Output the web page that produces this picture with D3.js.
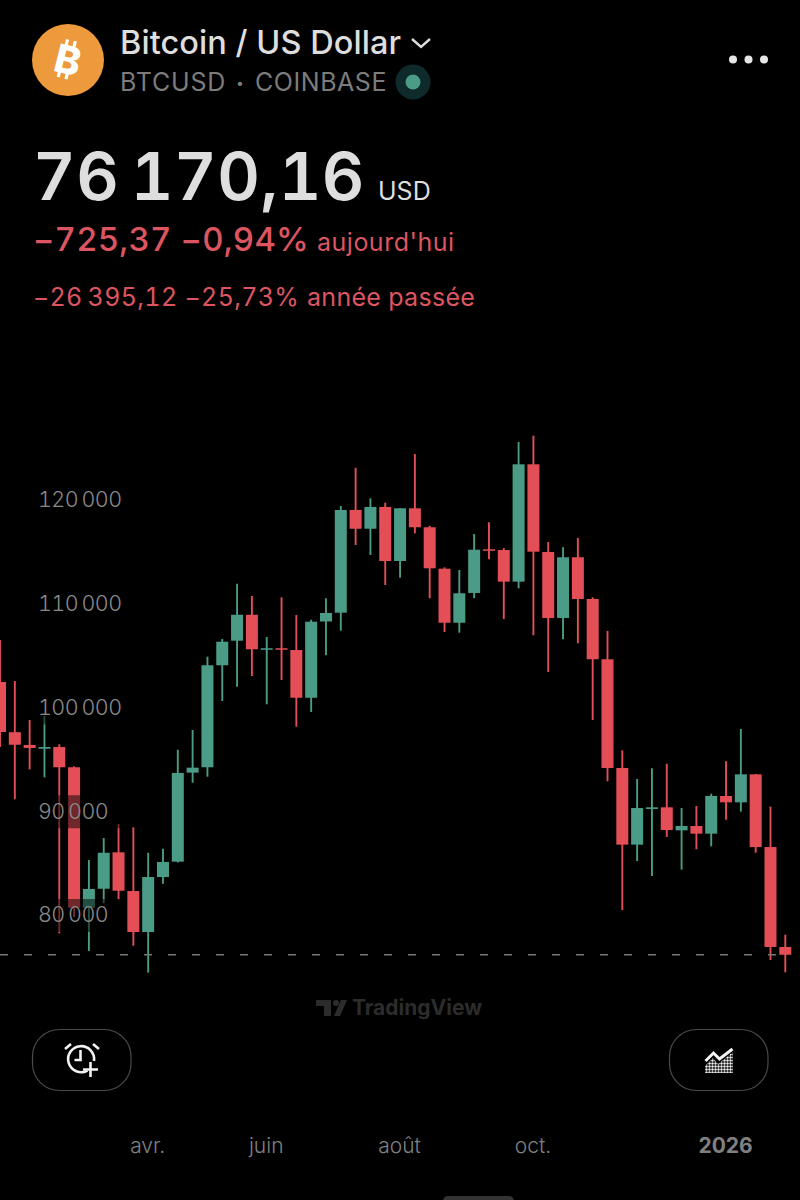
<!DOCTYPE html>
<html>
<head>
<meta charset="utf-8">
<script src="https://cdnjs.cloudflare.com/ajax/libs/d3/7.8.5/d3.min.js"></script>
<style>
  html, body { margin: 0; padding: 0; background: #000; }
  svg { display: block; }
  text { font-family: Inter, "Noto Sans", sans-serif; }
  .num { font-feature-settings: "tnum"; }
</style>
</head>
<body>
<svg id="chart"></svg>
<script>
// weekly candles
var weeks = ["2025-01-27","2025-02-03","2025-02-10","2025-02-17","2025-02-24","2025-03-03","2025-03-10","2025-03-17","2025-03-24","2025-03-31",
  "2025-04-07","2025-04-14","2025-04-21","2025-04-28","2025-05-05","2025-05-12","2025-05-19","2025-05-26","2025-06-02","2025-06-09",
  "2025-06-16","2025-06-23","2025-06-30","2025-07-07","2025-07-14","2025-07-21","2025-07-28","2025-08-04","2025-08-11","2025-08-18",
  "2025-08-25","2025-09-01","2025-09-08","2025-09-15","2025-09-22","2025-09-29","2025-10-06","2025-10-13","2025-10-20","2025-10-27",
  "2025-11-03","2025-11-10","2025-11-17","2025-11-24","2025-12-01","2025-12-08","2025-12-15","2025-12-22","2025-12-29","2026-01-05",
  "2026-01-12","2026-01-19","2026-01-26","2026-02-02"];

var opens = [102460,97620,96390,96030,96190,94240,80700,82530,86040,82310,
  78360,83660,85140,93720,94240,104070,106440,108940,105570,105710,
  105540,100940,108290,109140,119040,117230,119330,114120,119200,117370,
  113380,108170,111040,115250,115180,112130,123440,114990,108630,114480,
  110460,104650,94170,86780,90220,90380,88160,88580,87840,91470,
  90860,93560,86550,76920];

var closes = [97640,96410,96100,96190,94240,80700,82510,86000,82340,78360,
  83660,85110,93690,94200,104070,106340,108940,105610,105710,105570,
  100940,108270,109110,119040,117230,119330,114120,119200,117370,113420,
  108170,111010,115210,115110,112130,123440,115020,108630,114480,110460,
  104650,94170,86780,90310,90380,88190,88580,87840,91470,90860,
  93560,86550,76920,76170];

var highs = [106510,102550,98800,99180,96450,94330,85300,87420,88770,88450,
  86000,86390,95930,97830,104900,106600,111930,110750,106800,110620,
  108920,108460,110530,119420,123110,120160,119740,119230,124430,117520,
  113510,113250,116720,117850,115370,125590,126200,115950,115440,116340,
  110620,107370,95870,93110,94140,94580,90310,90510,91690,94810,
  97930,93590,90440,78100];

var lows = [96190,91150,94040,93270,78240,79810,76530,81130,81510,77040,
  74440,83020,85060,92750,93330,100630,102000,103040,100310,102650,
  98150,99570,105030,107400,115660,114700,111810,112510,116790,110530,
  107280,107210,110530,114280,108530,111490,106960,103420,106570,106190,
  98800,92890,80480,85200,83760,87520,84370,86330,86620,89190,
  89960,86000,75660,74480];

var priceTicks = [80000,90000,100000,110000,120000];
var lastPrice = 76170.16;

var timeTicks = ["2025-04-07","2025-06-02","2025-08-04","2025-10-06","2026-01-05"];
var timeLabels = ["avr.","juin","août","oct.","2026"];

var red = "#e44f57";
var green = "#4a9c86";

var width = 800, height = 1200;

var svg = d3.select("#chart")
    .attr("width", width)
    .attr("height", height)
    .attr("viewBox", "0 0 800 1200");

var candles = weeks.map(function(w, i) {
    return { week: w, open: opens[i], close: closes[i], high: highs[i], low: lows[i] };
});

var xScale = d3.scalePoint().domain(weeks).range([0, 785.3]);
var yScale = d3.scaleLinear().domain([80000, 120000]).range([915, 500]);

/*************** HEADER ***************/
var header = svg.append("g");

header.append("circle").attr("cx", 68).attr("cy", 60).attr("r", 36).attr("fill", "#ec9a3c");
var btc = header.append("g").attr("transform", "translate(68,60) rotate(14)");
btc.append("text")
    .attr("text-anchor", "middle")
    .attr("y", 14)
    .attr("font-size", 39)
    .attr("font-weight", 800)
    .attr("fill", "#fff")
    .text("B");
[-7, 1].forEach(function(dx) {
    btc.append("rect").attr("x", dx).attr("y", -20).attr("width", 3.2).attr("height", 6).attr("fill", "#fff");
    btc.append("rect").attr("x", dx).attr("y", 13).attr("width", 3.2).attr("height", 6).attr("fill", "#fff");
});

function label(x, y, size, weight, fill, str, spacing) {
    return header.append("text")
        .attr("class", "num")
        .attr("x", x).attr("y", y)
        .attr("font-size", size)
        .attr("font-weight", weight)
        .attr("letter-spacing", spacing || 0)
        .attr("fill", fill)
        .text(str);
}

label(120, 54, 32.5, 500, "#dedede", "Bitcoin / US Dollar", 0.05);
label(120, 91, 25, 400, "#7c7c7c", "BTCUSD", 0.8);
label(236, 88, 14, 400, "#7c7c7c", "•");
label(255, 91, 25, 400, "#7c7c7c", "COINBASE", 0.55);

header.append("path")
    .attr("d", "M412 39l9 8 9-8")
    .attr("fill", "none")
    .attr("stroke", "#dedede")
    .attr("stroke-width", 2.4);

header.append("circle").attr("cx", 413).attr("cy", 82).attr("r", 17.5).attr("fill", "#0e2a2b");
header.append("circle").attr("cx", 413).attr("cy", 82).attr("r", 7.5).attr("fill", green);

[733, 748.5, 764].forEach(function(cx) {
    header.append("circle").attr("cx", cx).attr("cy", 59.5).attr("r", 4).attr("fill", "#e6e6e6");
});

label(33, 200, 66, 600, "#dedede", "76\u2009170,16", 0.5);
label(378, 200, 25, 400, "#dedede", "USD");
label(33, 251, 33, 500, "#dc5560", "\u2212725,37 \u22120,94%", 0.2);
label(317, 251, 25, 400, "#dc5560", "aujourd'hui", 0.5);
label(33, 306, 25, 400, "#dc5560", "\u221226\u2009395,12 \u221225,73%", 0.35);
label(307, 306, 25, 400, "#dc5560", "année passée", 0.3);

/*************** CANDLES ***************/
var plot = svg.append("g");

var marks = plot.selectAll("g.candle")
    .data(candles)
    .enter()
    .append("g")
    .attr("class", "candle");

marks.append("line")
    .attr("x1", function(d) { return xScale(d.week); })
    .attr("x2", function(d) { return xScale(d.week); })
    .attr("y1", function(d) { return yScale(d.high); })
    .attr("y2", function(d) { return yScale(d.low); })
    .attr("stroke", function(d) { return d.close >= d.open ? green : red; })
    .attr("stroke-width", 1.9);

marks.append("rect")
    .attr("x", function(d) { return xScale(d.week) - 6; })
    .attr("width", 12)
    .attr("y", function(d) { return yScale(Math.max(d.open, d.close)); })
    .attr("height", function(d) { return Math.max(1.5, Math.abs(yScale(d.open) - yScale(d.close))); })
    .attr("fill", function(d) { return d.close >= d.open ? green : red; });

// current price line
plot.append("line")
    .attr("x1", 0)
    .attr("x2", xScale(weeks[weeks.length - 1]))
    .attr("y1", yScale(lastPrice))
    .attr("y2", yScale(lastPrice))
    .attr("stroke", "#777")
    .attr("stroke-width", 1.4)
    .attr("stroke-dasharray", "8 16");

/*************** AXES ***************/
var priceFormat = d3.formatLocale({ decimal: ",", thousands: "\u2009", grouping: [3], currency: ["", ""] }).format(",d");

var yAxis = d3.axisRight()
    .scale(yScale)
    .tickValues(priceTicks)
    .tickSize(0)
    .tickPadding(0)
    .tickFormat(priceFormat);

var yg = svg.append("g")
    .attr("transform", "translate(38,0)")
    .call(yAxis);
yg.select(".domain").remove();
yg.selectAll(".tick").insert("rect", "text")
    .attr("x", 0)
    .attr("y", -16.5)
    .attr("width", 84)
    .attr("height", 33)
    .attr("fill", "#000")
    .attr("fill-opacity", 0.5);
yg.selectAll("text")
    .attr("class", "num")
    .attr("font-size", 21.5)
    .attr("font-family", "Inter")
    .attr("font-weight", 300)
    .attr("letter-spacing", -0.55)
    .attr("fill", "#8a8a8a");

var xAxis = d3.axisBottom()
    .scale(xScale)
    .tickValues(timeTicks)
    .tickSize(0)
    .tickPadding(0)
    .tickFormat(function(d, i) { return timeLabels[i]; });

var xg = svg.append("g")
    .attr("transform", "translate(-1,1138)")
    .call(xAxis);
xg.select(".domain").remove();
xg.selectAll("text")
    .attr("font-size", 21)
    .attr("font-family", "Inter")
    .attr("font-weight", function(d, i) { return timeLabels[i] === "2026" ? 700 : 300; })
    .attr("fill", "#808080");

/*************** WATERMARK + BUTTONS ***************/
var mark = svg.append("g").attr("fill", "#2c2c2c");
mark.append("path").attr("d", "M316 1000h15v16h-7v-10h-8z");
mark.append("circle").attr("cx", 336).attr("cy", 1003).attr("r", 3);
mark.append("path").attr("d", "M341 1000h6l-7 16h-6z");
mark.append("text")
    .attr("x", 352).attr("y", 1015)
    .attr("font-size", 21)
    .attr("font-weight", 700)
    .text("TradingView");

[32, 669].forEach(function(x) {
    svg.append("rect")
        .attr("x", x + 0.5).attr("y", 1029.5)
        .attr("width", 98.5).attr("height", 61)
        .attr("rx", 27)
        .attr("fill", "none")
        .attr("stroke", "#4a4a4a")
        .attr("stroke-width", 1.2);
});

var alarm = svg.append("g")
    .attr("fill", "none")
    .attr("stroke", "#f2f2f2")
    .attr("stroke-width", 2.6);
alarm.append("path").attr("d", "M87.5 1070.5A13 13 0 1 1 94 1061");
alarm.append("path").attr("d", "M80.5 1050v10h-6");
alarm.append("path").attr("d", "M65 1049l6-5M99 1049l-6-5");
alarm.append("path").attr("d", "M90.5 1062v15M83 1069.5h15");

var defs = svg.append("defs");
defs.append("pattern")
    .attr("id", "dots")
    .attr("width", 3)
    .attr("height", 3)
    .attr("patternUnits", "userSpaceOnUse")
    .append("circle").attr("cx", 1.5).attr("cy", 1.5).attr("r", 1.2).attr("fill", "#f2f2f2");
svg.append("path")
    .attr("d", "M705 1073v-7l8-8 5 6 15-12v21z")
    .attr("fill", "url(#dots)");
svg.append("path")
    .attr("d", "M705.5 1061l8-8 6 6 13-10")
    .attr("fill", "none")
    .attr("stroke", "#f2f2f2")
    .attr("stroke-width", 3);

// home indicator
svg.append("rect")
    .attr("x", 443).attr("y", 1196)
    .attr("width", 71).attr("height", 10)
    .attr("rx", 5)
    .attr("fill", "#333");
</script>
</body>
</html>
